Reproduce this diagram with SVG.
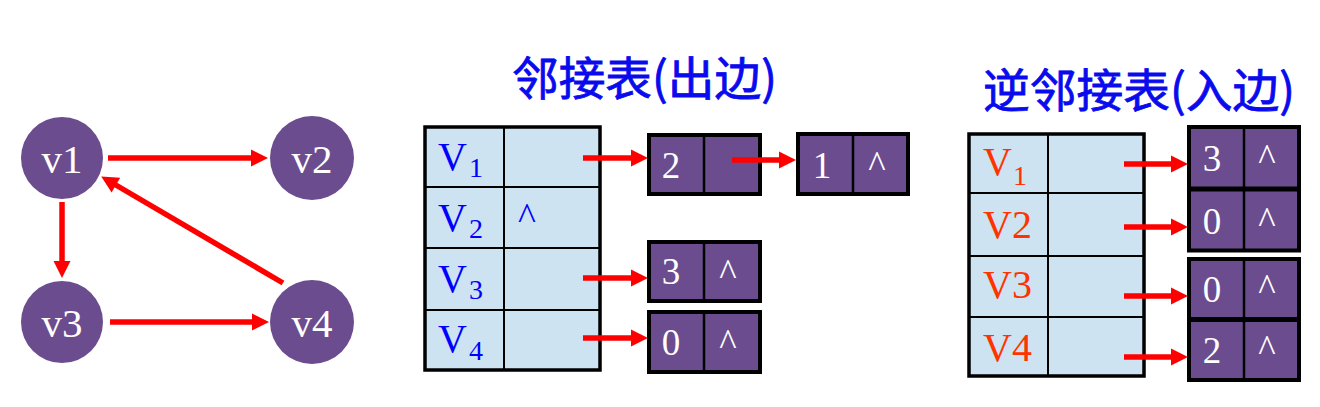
<svg xmlns="http://www.w3.org/2000/svg" width="1320" height="407" viewBox="0 0 1320 407">
<style>
.circ{fill:#6b4c8e}
.ntxt{font-family:"Liberation Serif","Times New Roman",serif;font-size:41px;fill:#ffffff;text-anchor:middle}
.tbl{fill:#cde3f1;stroke:#000;stroke-width:3.5}
.ln{stroke:#000;stroke-width:2;fill:none}
.box{fill:#6b4c8e;stroke:#000;stroke-width:4}
.dv{stroke:#000;stroke-width:2.5}
.btxt{font-family:"Liberation Serif","Times New Roman",serif;font-size:37px;fill:#ffffff;text-anchor:middle}
.vb{font-family:"Liberation Serif","Times New Roman",serif;font-size:40px;fill:#0000ff}
.vr{font-family:"Liberation Serif","Times New Roman",serif;font-size:40px;fill:#ff3300}
.sub{font-size:28px}
.title{font-family:"Noto Sans CJK SC","Noto Sans",sans-serif;font-size:46px;fill:#0a0aee;stroke:#0a0aee;stroke-width:0.8}
.arr{stroke:#ff0000;stroke-width:5.5;fill:none;marker-end:url(#ah)}
</style>
<defs>
<marker id="ah" markerUnits="userSpaceOnUse" markerWidth="18" markerHeight="18" viewBox="0 0 18 18" refX="9" refY="9" orient="auto">
<path d="M1,0.5 L18,9 L1,17.5 z" fill="#ff0000"/>
</marker>
</defs>

<!-- graph nodes -->
<g id="v1"><circle class="circ" cx="62" cy="158" r="41"/><text class="ntxt" x="62" y="173">v1</text></g>
<g id="v2"><circle class="circ" cx="312" cy="158" r="42"/><text class="ntxt" x="312" y="173">v2</text></g>
<g id="v3"><circle class="circ" cx="62" cy="322" r="41"/><text class="ntxt" x="62" y="337">v3</text></g>
<g id="v4"><circle class="circ" cx="312" cy="322" r="42"/><text class="ntxt" x="312" y="337">v4</text></g>

<!-- titles -->
<g id="title-out"><text class="title" x="512" y="95" textLength="265" lengthAdjust="spacingAndGlyphs">邻接表(出边)</text></g>
<g id="title-in"><text class="title" x="983" y="107" textLength="312" lengthAdjust="spacingAndGlyphs">逆邻接表(入边)</text></g>

<!-- adjacency table (out) -->
<g id="adj-table">
<rect class="tbl" x="425" y="127" width="175" height="243"/>
<line class="ln" x1="504" y1="127" x2="504" y2="370"/>
<line class="ln" x1="425" y1="187" x2="600" y2="187"/>
<line class="ln" x1="425" y1="248" x2="600" y2="248"/>
<line class="ln" x1="425" y1="310" x2="600" y2="310"/>
<text class="vb" x="438" y="170">V</text><text class="vb sub" x="469" y="177">1</text>
<text class="vb" x="438" y="231">V</text><text class="vb sub" x="469" y="238">2</text>
<text class="vb" x="438" y="292">V</text><text class="vb sub" x="469" y="299">3</text>
<text class="vb" x="438" y="352">V</text><text class="vb sub" x="469" y="360">4</text>
<text class="vb" x="527" y="229" text-anchor="middle" style="font-size:38px">^</text>
</g>

<g id="out-node-2"><rect class="box" x="649" y="135" width="111" height="59"/><line class="dv" x1="704" y1="135" x2="704" y2="194"/><text class="btxt" x="671" y="178">2</text></g>
<g id="out-node-1"><rect class="box" x="798" y="134" width="110" height="60"/><line class="dv" x1="853" y1="134" x2="853" y2="194"/><text class="btxt" x="822" y="178">1</text><text class="btxt" x="877" y="177">^</text></g>
<g id="out-node-3"><rect class="box" x="649" y="242" width="111" height="59"/><line class="dv" x1="704" y1="242" x2="704" y2="301"/><text class="btxt" x="671" y="284">3</text><text class="btxt" x="728" y="285">^</text></g>
<g id="out-node-0"><rect class="box" x="649" y="312" width="111" height="60"/><line class="dv" x1="704" y1="312" x2="704" y2="372"/><text class="btxt" x="671" y="355">0</text><text class="btxt" x="728" y="355">^</text></g>

<!-- inverse adjacency table (in) -->
<g id="inv-table">
<rect class="tbl" x="969" y="134" width="175" height="242"/>
<line class="ln" x1="1048" y1="134" x2="1048" y2="376"/>
<line class="ln" x1="969" y1="193" x2="1144" y2="193"/>
<line class="ln" x1="969" y1="256" x2="1144" y2="256"/>
<line class="ln" x1="969" y1="317" x2="1144" y2="317"/>
<text class="vr" x="983" y="175">V</text><text class="vr sub" x="1013" y="185">1</text>
<text class="vr" x="983" y="238">V2</text>
<text class="vr" x="983" y="298">V3</text>
<text class="vr" x="983" y="361">V4</text>
</g>

<g id="in-node-3"><rect class="box" x="1189" y="127" width="110" height="61.5"/><line class="dv" x1="1244" y1="127" x2="1244" y2="188.5"/><text class="btxt" x="1212" y="171">3</text><text class="btxt" x="1267" y="170">^</text></g>
<g id="in-node-0a"><rect class="box" x="1189" y="189.5" width="110" height="61"/><line class="dv" x1="1244" y1="189.5" x2="1244" y2="250.5"/><text class="btxt" x="1212" y="234">0</text><text class="btxt" x="1267" y="233">^</text></g>
<g id="in-node-0b"><rect class="box" x="1189" y="259" width="110" height="60"/><line class="dv" x1="1244" y1="259" x2="1244" y2="319"/><text class="btxt" x="1212" y="302">0</text><text class="btxt" x="1267" y="300">^</text></g>
<g id="in-node-2"><rect class="box" x="1189" y="320" width="110" height="60"/><line class="dv" x1="1244" y1="320" x2="1244" y2="380"/><text class="btxt" x="1212" y="363">2</text><text class="btxt" x="1267" y="361">^</text></g>

<!-- connectors -->
<g id="connectors">
<line class="arr" x1="108" y1="158" x2="259" y2="158"/>
<line class="arr" x1="62" y1="202" x2="62" y2="269"/>
<line class="arr" x1="110" y1="322" x2="260" y2="322"/>
<line class="arr" x1="283" y1="283" x2="109" y2="181"/>
<line class="arr" x1="583" y1="158" x2="639" y2="158"/>
<line class="arr" x1="732" y1="160" x2="787" y2="160"/>
<line class="arr" x1="583" y1="278" x2="639" y2="278"/>
<line class="arr" x1="583" y1="338" x2="639" y2="338"/>
<line class="arr" x1="1124" y1="164" x2="1179" y2="164"/>
<line class="arr" x1="1124" y1="227" x2="1179" y2="227"/>
<line class="arr" x1="1124" y1="296" x2="1179" y2="296"/>
<line class="arr" x1="1124" y1="357" x2="1179" y2="357"/>
</g>
</svg>
